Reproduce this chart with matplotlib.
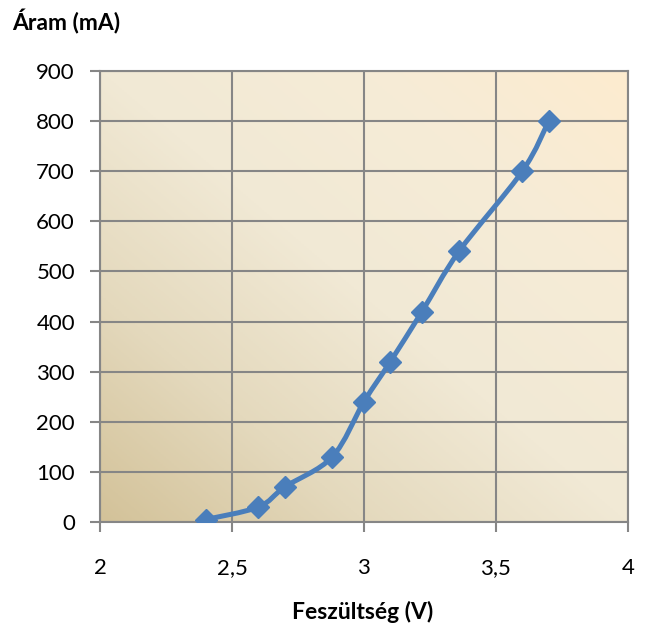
import numpy as np
import matplotlib
matplotlib.use("Agg")
import matplotlib.pyplot as plt
from matplotlib.path import Path
from matplotlib.patches import PathPatch
from matplotlib.colors import LinearSegmentedColormap

# data
voltage = [2.4, 2.6, 2.7, 2.88, 3.0, 3.1, 3.22, 3.36, 3.6, 3.7]
current = [5, 30, 70, 130, 240, 320, 420, 540, 700, 800]

x_ticks = [2, 2.5, 3, 3.5, 4]
x_tick_labels = ["2", "2,5", "3", "3,5", "4"]
y_ticks = [0, 100, 200, 300, 400, 500, 600, 700, 800, 900]

LINE_COL = "#4a7ebb"
GRID_COL = "#868686"
FONT = ["Lato", "DejaVu Sans"]

plt.rcParams["font.family"] = FONT

fig = plt.figure(figsize=(6.48, 6.3), dpi=100)
ax = fig.add_axes([0.1543, 0.1714, 0.8147, 0.7159])

# parchment-like diagonal gradient background (darker only near bottom-left)
cmap = LinearSegmentedColormap.from_list(
    "parch", [(0.0, "#d3c299"), (0.25, "#e4d9bd"), (0.5, "#f1e9d5"),
              (0.75, "#f6ecd7"), (1.0, "#fdebcf")])
gx, gy = np.meshgrid(np.linspace(0, 1, 200), np.linspace(0, 1, 200))
grad = (gx + gy) / 2
ax.imshow(grad, cmap=cmap, extent=[0, 1, 0, 1], origin="lower",
          transform=ax.transAxes, aspect="auto", zorder=0)

# smoothed line (Catmull-Rom style bezier like Excel's smoothing)
pts = np.column_stack([voltage, current]).astype(float)
verts = [tuple(pts[0])]
codes = [Path.MOVETO]
n = len(pts)
for i in range(n - 1):
    p0 = pts[i - 1] if i > 0 else pts[i]
    p1 = pts[i]
    p2 = pts[i + 1]
    p3 = pts[i + 2] if i + 2 < n else pts[i + 1]
    c1 = p1 + (p2 - p0) / 6.0
    c2 = p2 - (p3 - p1) / 6.0
    verts += [tuple(c1), tuple(c2), tuple(p2)]
    codes += [Path.CURVE4] * 3
ax.add_patch(PathPatch(Path(verts, codes), facecolor="none",
                       edgecolor=LINE_COL, lw=3.6, zorder=3,
                       capstyle="round", joinstyle="round"))
ax.plot(voltage, current, linestyle="none", marker="D", ms=11.5,
        color=LINE_COL, zorder=4)

ax.set_xlim(2, 4)
ax.set_ylim(0, 900)
ax.set_xticks(x_ticks)
ax.set_xticklabels(x_tick_labels)
ax.set_yticks(y_ticks)

ax.grid(True, color=GRID_COL, lw=1.5, zorder=1)
ax.set_axisbelow(False)
for s in ax.spines.values():
    s.set_color(GRID_COL)
    s.set_linewidth(1.5)
    s.set_zorder(1.5)
ax.tick_params(direction="out", length=7, width=1.5, color=GRID_COL,
               labelsize=16, labelcolor="black")
ax.tick_params(axis="y", pad=11)
ax.tick_params(axis="x", pad=19)

fig.text(0.018, 0.965, "Áram (mA)", fontsize=16.5, fontweight="bold",
         ha="left", va="center")
fig.text(0.559, 0.028, "Feszültség (V)", fontsize=16.5, fontweight="bold",
         ha="center", va="center")

fig.savefig("out.png", dpi=100)
